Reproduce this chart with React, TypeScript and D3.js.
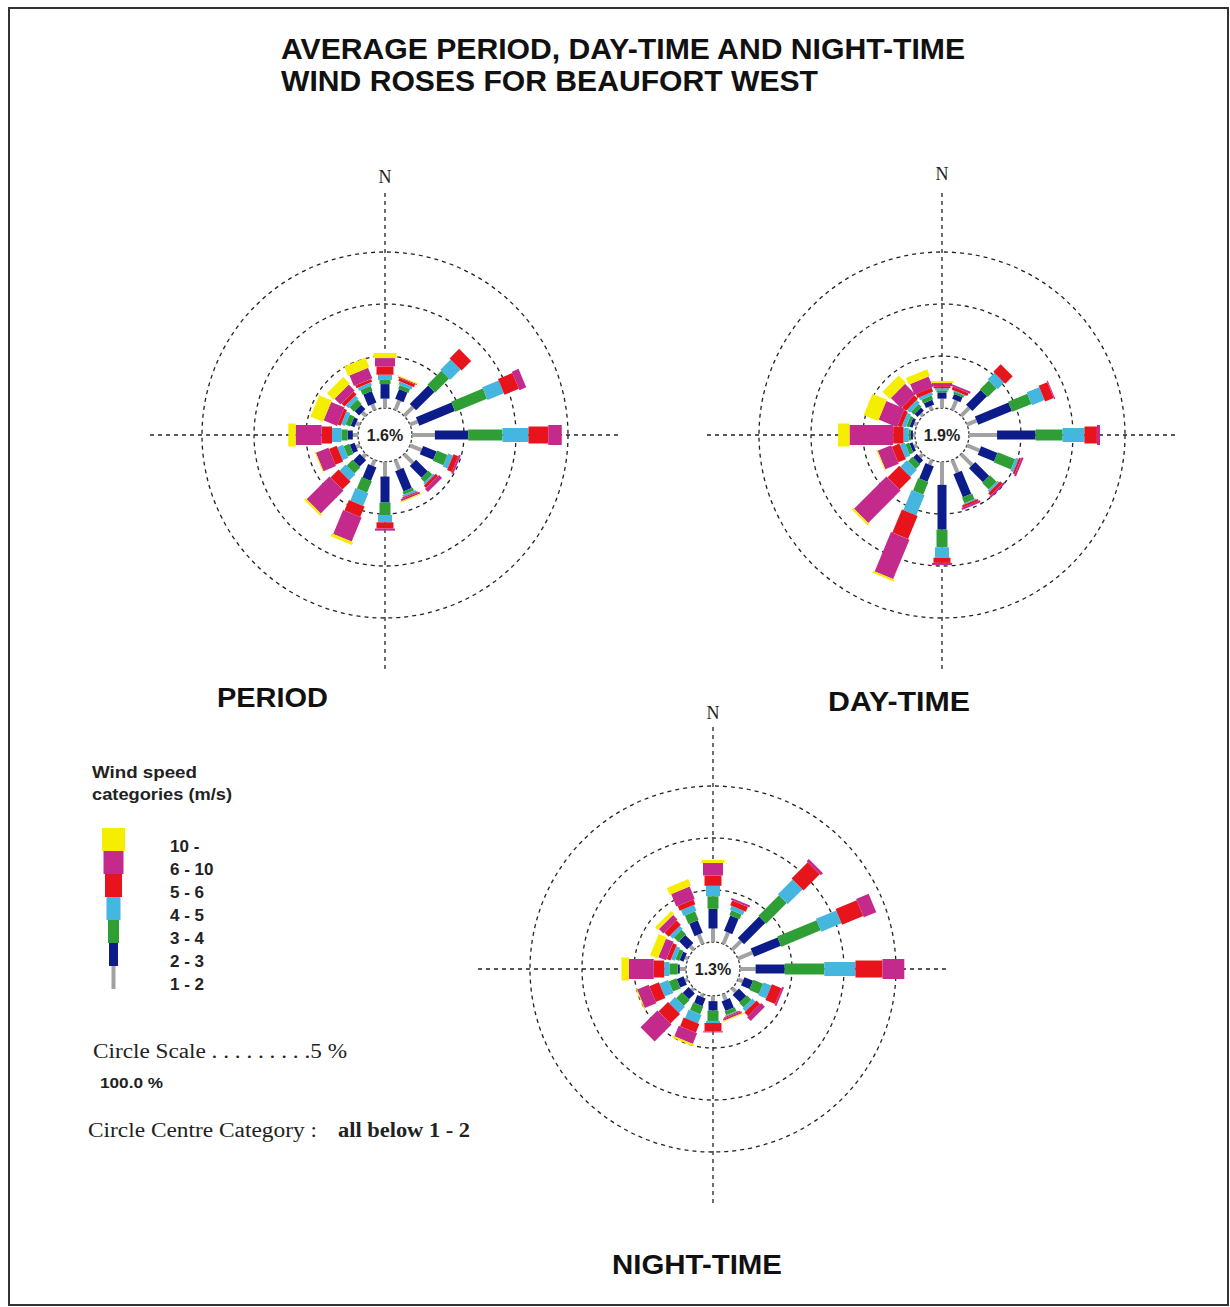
import React from "react";
import * as d3 from "d3";

const DIRECTIONS = ["N","NNE","NE","ENE","E","ESE","SE","SSE","S","SSW","SW","WSW","W","WNW","NW","NNW"];
const SPEED_CATEGORIES = ["1 - 2","2 - 3","3 - 4","4 - 5","5 - 6","6 - 10","10 -"];
const LEGEND_LABELS = ["10 -","6 - 10","5 - 6","4 - 5","3 - 4","2 - 3","1 - 2"];
const CATEGORY_COLORS = ["#a2a2a2","#0c1c8a","#2f9f35","#45b6e0","#e8141c","#c42a8c","#f6ee00"];
const CIRCLE_TICKS = [5, 10, 15];

// percent frequency per direction, per speed category (1-2, 2-3, 3-4, 4-5, 5-6, 6-10, 10-)
const periodValues = [
  [0.9,1.4,0.4,0.5,0.8,0.8,0.5],
  [1.0,1.0,0.4,0.3,0.3,0.1,0.1],
  [1.2,2.5,1.9,1.4,1.3,0,0],
  [0.8,3.7,3.3,1.7,1.5,0.7,0],
  [2.2,3.2,3.3,2.5,1.9,1.3,0],
  [1.2,1.4,1.1,0.5,0.5,0.2,0],
  [1.2,1.6,0.5,0.2,0.3,0.4,0],
  [1.0,2.1,0.3,0.2,0.1,0.2,0.1],
  [1.4,2.5,1.2,0.7,0.6,0.2,0],
  [0.6,1.4,1.2,1.3,1.1,2.5,0.3],
  [0.4,0.9,0.8,0.8,1.1,3.1,0.2],
  [0.4,0.5,0.6,0.6,0.8,1.3,0.1],
  [0.5,0.5,0.6,0.9,1.0,2.5,0.7],
  [0.4,0.4,0.5,0.4,0.3,1.4,1.3],
  [0.5,0.6,0.6,0.4,0.4,0.8,0.9],
  [0.6,1.2,0.5,0.3,0.3,1.1,1.0],
];
const dayValues = [
  [0.9,0.6,0.2,0.2,0.2,0.3,0.2],
  [1.0,0.5,0.2,0.1,0.3,0.2,0],
  [1.1,2.0,1.2,0.9,1.0,0,0],
  [1.0,3.5,2.0,1.3,0.9,0.1,0],
  [2.7,3.7,2.6,2.1,1.2,0.3,0],
  [1.3,1.7,1.8,0.3,0.2,0.2,0],
  [1.5,1.9,0.9,0.2,0.3,0.2,0],
  [1.3,2.4,0.6,0.1,0.2,0.2,0],
  [2.2,4.3,1.7,1.0,0.5,0.2,0],
  [0.5,1.6,1.3,2.1,2.4,4.1,0.2],
  [0.4,0.5,0.6,0.9,1.6,4.4,0.2],
  [0.3,0.3,0.4,0.5,0.8,1.4,0.1],
  [0.2,0.2,0.2,0.5,1.0,4.2,1.1],
  [0.3,0.3,0.3,0.4,0.4,1.9,1.5],
  [0.3,0.4,0.4,0.4,0.5,1.4,1.0],
  [0.4,0.5,0.4,0.3,0.4,1.1,0.7],
];
const nightValues = [
  [1.3,1.9,1.2,1.0,1.0,1.2,0.3],
  [1.2,1.6,0.5,0.4,0.5,0.2,0],
  [1.2,2.9,2.8,2.0,2.2,0.3,0],
  [1.5,2.8,4.1,2.1,2.2,1.3,0],
  [1.5,2.8,3.8,3.0,2.6,2.1,0],
  [0.5,0.9,1.0,0.8,1.0,0.2,0],
  [0.5,1.0,0.6,0.4,0.5,0.5,0],
  [0.6,1.0,0.4,0.1,0.1,0.2,0.1],
  [0.5,0.9,1.0,0.2,0.8,0.1,0],
  [0.3,0.8,0.8,0.9,0.9,1.1,0.2],
  [0.3,0.8,0.8,0.8,1.3,2.3,0],
  [0.3,0.7,0.8,0.9,1.0,1.2,0.1],
  [0.6,0.2,0.8,0.5,1.0,2.4,0.7],
  [0.3,0.4,0.4,0.4,0.4,0.8,0.8],
  [0.5,1.1,0.6,0.4,0.6,0.6,0.4],
  [1.0,1.3,0.9,0.6,0.5,1.3,0.7],
];
const CALM_LABELS = ["1.6%", "1.9%", "1.3%"];

const SEG_WIDTHS = [4, 9, 11, 14, 17, 20, 23];
const CALM_R = 27;
const rScale = d3.scaleLinear().domain([0, 15]).range([CALM_R, 183]);

const SANS = "'Liberation Sans', Arial, sans-serif";
const SERIF = "'Liberation Serif', 'Times New Roman', serif";

function Rose({ cx, cy, values, calm, nY }: { cx: number; cy: number; values: number[][]; calm: string; nY: number }) {
  const keys = SPEED_CATEGORIES.map((_, i) => i);
  const rows = values.map((v) => {
    const o: any = {};
    keys.forEach((k) => (o[k] = v[k]));
    return o;
  });
  const stacked = d3.stack<any, any>().keys(keys)(rows);
  const angle = d3.scaleLinear().domain([0, DIRECTIONS.length]).range([0, 360]);
  const ext = 235;
  return (
    <g transform={`translate(${cx},${cy})`}>
      <text x={0} y={nY} textAnchor="middle" fontFamily={SERIF} fontSize={18} fill="#222">N</text>
      <line x1={-ext} x2={ext} y1={0} y2={0} stroke="#222" strokeWidth={1.3} strokeDasharray="4 4" />
      <line x1={0} x2={0} y1={-242} y2={ext} stroke="#222" strokeWidth={1.3} strokeDasharray="4 4" />
      {CIRCLE_TICKS.map((t) => (
        <circle key={t} r={rScale(t)} fill="none" stroke="#222" strokeWidth={1.3} strokeDasharray="4 4" />
      ))}
      <circle r={CALM_R} fill="#fff" stroke="#333" strokeWidth={1.3} strokeDasharray="3 2" />
      {DIRECTIONS.map((d, i) => (
        <g key={d} transform={`rotate(${angle(i)})`}>
          {stacked.map((s, k) => {
            const [y0, y1] = s[i];
            if (y1 - y0 <= 0) return null;
            const w = SEG_WIDTHS[k];
            const r0 = rScale(y0);
            const r1 = rScale(y1);
            return (
              <rect key={k} x={-w / 2} y={-r1} width={w} height={r1 - r0} fill={CATEGORY_COLORS[k]} />
            );
          })}
        </g>
      ))}
      <text x={0} y={6} textAnchor="middle" fontFamily={SANS} fontWeight="bold" fontSize={16} fill="#222">{calm}</text>
    </g>
  );
}

export default function App() {
  const legendTop = 828;
  const legendH = 23;
  return (
    <svg width={1230} height={1307} style={{ position: "absolute", left: 0, top: 0, display: "block", background: "#fff" }}>
      <rect x={0} y={0} width={1230} height={1307} fill="#fff" />
      <rect x={9} y={8} width={1219} height={1297} fill="none" stroke="#333" strokeWidth={2} />
      <text x={281} y={59} fontFamily={SANS} fontWeight="bold" fontSize={29} textLength={684} lengthAdjust="spacingAndGlyphs" fill="#111">AVERAGE PERIOD, DAY-TIME AND NIGHT-TIME</text>
      <text x={281} y={91} fontFamily={SANS} fontWeight="bold" fontSize={29} textLength={537} lengthAdjust="spacingAndGlyphs" fill="#111">WIND ROSES FOR BEAUFORT WEST</text>

      <Rose cx={385} cy={435} values={periodValues} calm={CALM_LABELS[0]} nY={-252} />
      <Rose cx={942} cy={435} values={dayValues} calm={CALM_LABELS[1]} nY={-255} />
      <Rose cx={713} cy={969} values={nightValues} calm={CALM_LABELS[2]} nY={-250} />

      <text x={217} y={707} fontFamily={SANS} fontWeight="bold" fontSize={27} textLength={111} lengthAdjust="spacingAndGlyphs" fill="#111">PERIOD</text>
      <text x={828} y={711} fontFamily={SANS} fontWeight="bold" fontSize={27} textLength={142} lengthAdjust="spacingAndGlyphs" fill="#111">DAY-TIME</text>
      <text x={612} y={1274} fontFamily={SANS} fontWeight="bold" fontSize={27} textLength={170} lengthAdjust="spacingAndGlyphs" fill="#111">NIGHT-TIME</text>

      <text x={92} y={778} fontFamily={SANS} fontWeight="bold" fontSize={17} textLength={105} lengthAdjust="spacingAndGlyphs" fill="#222">Wind speed</text>
      <text x={92} y={800} fontFamily={SANS} fontWeight="bold" fontSize={17} textLength={140} lengthAdjust="spacingAndGlyphs" fill="#222">categories (m/s)</text>
      {LEGEND_LABELS.map((lab, i) => {
        const k = SPEED_CATEGORIES.length - 1 - i;
        const w = SEG_WIDTHS[k];
        return (
          <g key={lab}>
            <rect x={113.5 - w / 2} y={legendTop + i * legendH} width={w} height={legendH} fill={CATEGORY_COLORS[k]} />
            <text x={170} y={legendTop + i * legendH + 24} fontFamily={SANS} fontWeight="bold" fontSize={17} fill="#222">{lab}</text>
          </g>
        );
      })}

      <text x={93} y={1058} fontFamily={SERIF} fontSize={20} textLength={254} lengthAdjust="spacingAndGlyphs" fill="#222">Circle Scale . . . . . . . . .5 %</text>
      <text x={100} y={1088} fontFamily={SANS} fontWeight="bold" fontSize={15} textLength={63} lengthAdjust="spacingAndGlyphs" fill="#222">100.0 %</text>
      <text x={88} y={1137} fontFamily={SERIF} fontSize={20} textLength={229} lengthAdjust="spacingAndGlyphs" fill="#222">Circle Centre Category :</text>
      <text x={338} y={1137} fontFamily={SERIF} fontWeight="bold" fontSize={20} textLength={132} lengthAdjust="spacingAndGlyphs" fill="#222">all below 1 - 2</text>
    </svg>
  );
}
